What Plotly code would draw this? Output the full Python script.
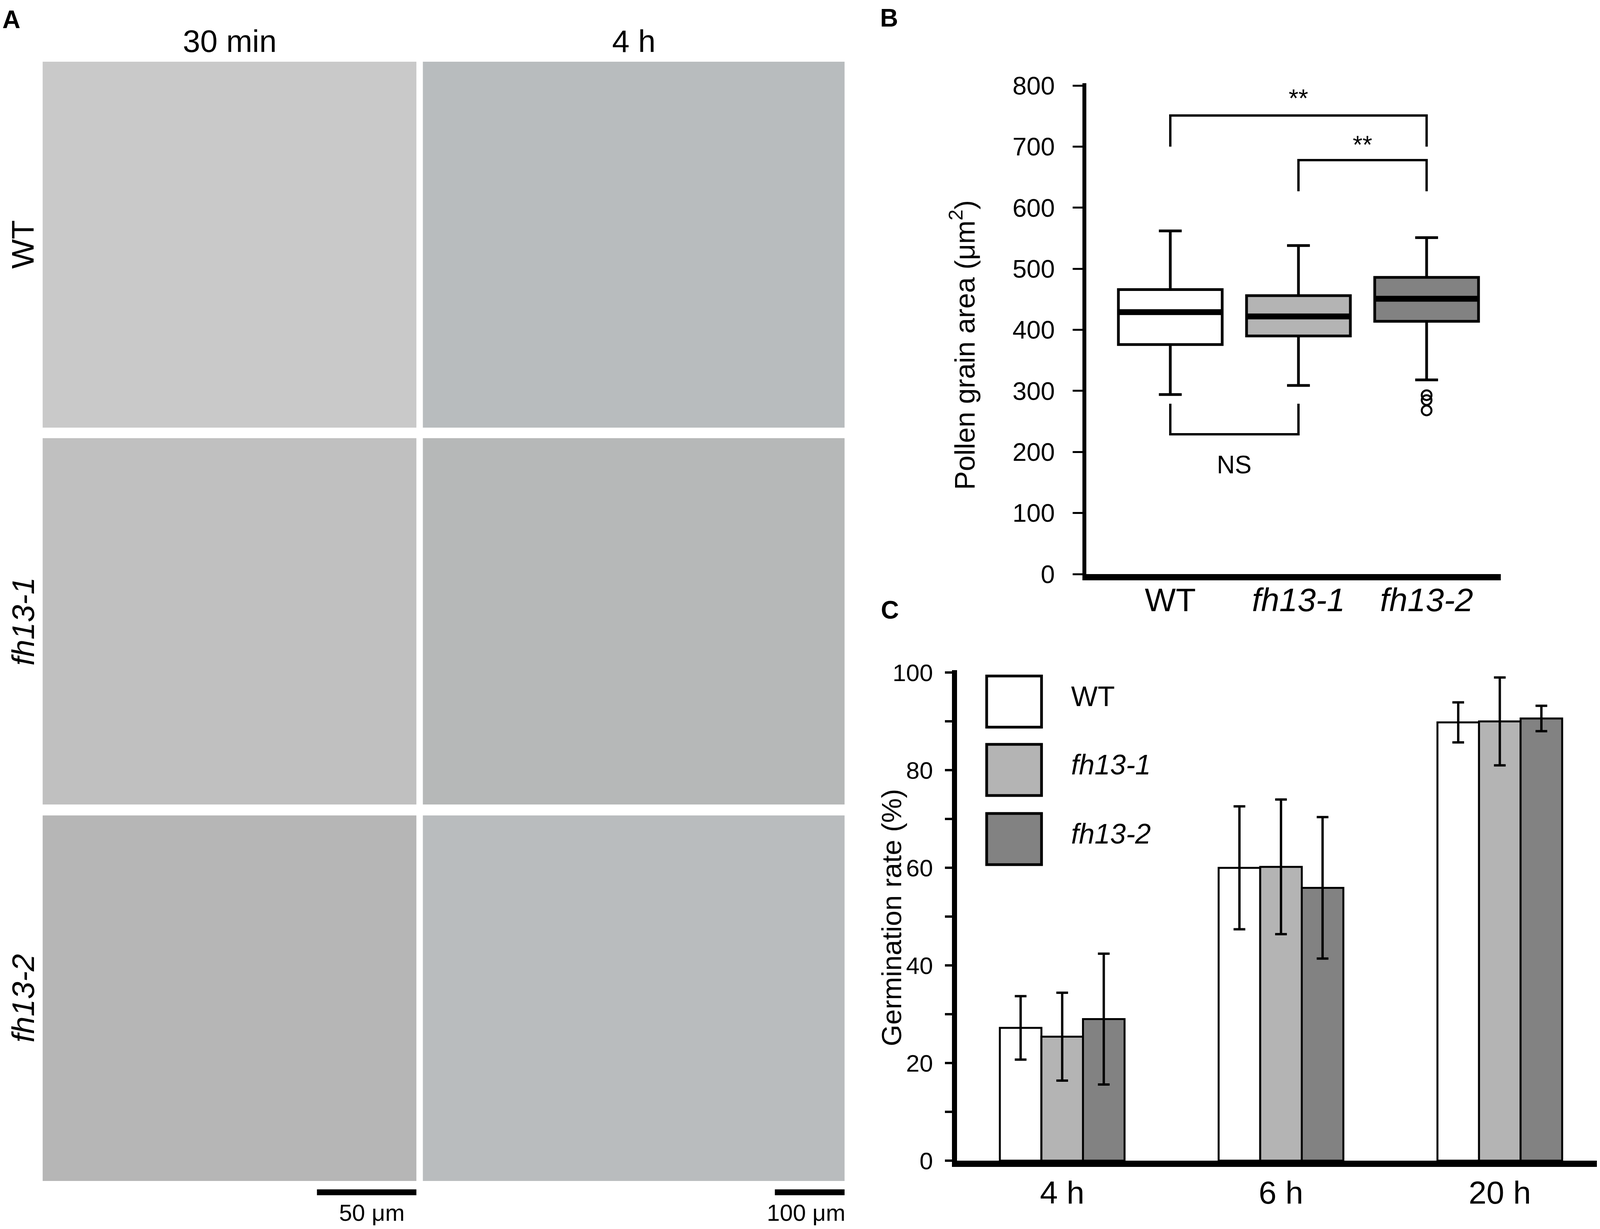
import plotly.graph_objects as go

W, H = 4200, 3147
FONT = "Liberation Sans, Arial, sans-serif"

# ---- panel B: pollen grain area (um^2), box statistics
genotypes = ["WT", "fh13-1", "fh13-2"]
genotype_labels = ["WT", "<i>fh13-1</i>", "<i>fh13-2</i>"]
genotype_colors = ["#ffffff", "#b4b4b4", "#828282"]
area_upper = [562, 538, 551]
area_q3 = [466, 456, 486]
area_median = [429, 422, 451]
area_q1 = [376, 390, 414]
area_lower = [294, 309, 318]
outlier_group = [2, 2, 2]
outlier_values = [293, 285, 268]

# significance brackets: left group, right group, bar height, leg end, label
sig_left = [0, 1, 0]
sig_right = [2, 2, 1]
sig_bar = [751, 678, 229]
sig_leg = [700, 627, 279]
sig_text = ["**", "**", "NS"]
sig_text_y = [779, 703, 179]

# ---- panel C: germination rate (%)
timepoints = ["4 h", "6 h", "20 h"]
germ_wt = [27.2, 60.0, 89.8]
germ_fh13_1 = [25.4, 60.2, 90.0]
germ_fh13_2 = [29.0, 55.9, 90.6]
err_wt = [6.5, 12.6, 4.1]
err_fh13_1 = [9.0, 13.8, 9.0]
err_fh13_2 = [13.4, 14.5, 2.6]

# ---- panel A: micrograph grid labels
time_titles = ["30 min", "4 h"]
row_titles = ["WT", "<i>fh13-1</i>", "<i>fh13-2</i>"]
scale_labels = ["50 \u03bcm", "100 \u03bcm"]


def px(x):
    return x / W


def py(y):
    return 1 - y / H


def note(x, y, text, size, angle=0, xanchor="center", bold=False):
    # paper-referenced label, placed by reference pixel position
    if bold:
        text = "<b>" + text + "</b>"
    fig.add_annotation(x=px(x), y=py(y), xref="paper", yref="paper", text=text,
                       textangle=angle, showarrow=False,
                       xanchor=xanchor, yanchor="middle",
                       font=dict(size=size, color="black"))


fig = go.Figure()

# panel B boxes
for i, name in enumerate(genotypes):
    fig.add_trace(go.Box(
        x=[i], q1=[area_q1[i]], median=[area_median[i]], q3=[area_q3[i]],
        lowerfence=[area_lower[i]], upperfence=[area_upper[i]],
        width=0.81, whiskerwidth=0.22, boxpoints=False,
        fillcolor=genotype_colors[i], line=dict(color="black", width=7),
        name=name, showlegend=False, xaxis="x", yaxis="y",
    ))
# thick median bands (line-ew length is 1.4 x size)
fig.add_trace(go.Scatter(
    x=[0, 1, 2], y=area_median, mode="markers", showlegend=False,
    marker=dict(symbol="line-ew", size=188, color="black",
                line=dict(color="black", width=15)),
    xaxis="x", yaxis="y",
))
fig.add_trace(go.Scatter(
    x=outlier_group, y=outlier_values, mode="markers", showlegend=False,
    marker=dict(symbol="circle-open", size=25, color="black",
                line=dict(color="black", width=5)),
    xaxis="x", yaxis="y",
))
for a, b, top, leg in zip(sig_left, sig_right, sig_bar, sig_leg):
    fig.add_trace(go.Scatter(
        x=[a, a, b, b], y=[leg, top, top, leg], mode="lines",
        line=dict(color="black", width=6), showlegend=False,
        xaxis="x", yaxis="y",
    ))
for a, b, ty, t in zip(sig_left, sig_right, sig_text_y, sig_text):
    fig.add_annotation(x=(a + b) / 2, y=ty, xref="x", yref="y", text=t,
                       showarrow=False, xanchor="center", yanchor="middle",
                       font=dict(size=64, color="black"))

# panel C bars
germ = [germ_wt, germ_fh13_1, germ_fh13_2]
errs = [err_wt, err_fh13_1, err_fh13_2]
for i, name in enumerate(genotypes):
    fig.add_trace(go.Bar(
        x=timepoints, y=germ[i], name=name, showlegend=False,
        marker=dict(color=genotype_colors[i], line=dict(color="black", width=5)),
        error_y=dict(type="data", array=errs[i], color="black",
                     thickness=6, width=15),
        xaxis="x2", yaxis="y2",
    ))

# panel C legend drawn as large swatches
leg_top = [1731, 1906, 2083]
for i, lab in enumerate(genotype_labels):
    fig.add_shape(type="rect", xref="paper", yref="paper",
                  x0=px(2590), x1=px(2734), y0=py(leg_top[i]), y1=py(leg_top[i] + 131),
                  fillcolor=genotype_colors[i], line=dict(color="black", width=7))
    note(2810, leg_top[i] + 52, lab, 72, xanchor="left")

# panel A: micrograph placeholders (background tone of each photo)
col_x = [(112, 1093), (1110, 2217)]
row_y = [(158, 1095), (1122, 2060), (2088, 3024)]
photo_fill = [["#c9c9c9", "#c0c0c0", "#b6b6b6"],
              ["#b8bcbe", "#b6b8b8", "#b9bcbe"]]
for c, (x0, x1) in enumerate(col_x):
    for r, (y0, y1) in enumerate(row_y):
        fig.add_shape(type="rect", xref="paper", yref="paper",
                      x0=px(x0), x1=px(x1), y0=py(y1), y1=py(y0),
                      fillcolor=photo_fill[c][r], line=dict(width=0), layer="below")
for (x0, x1), t in zip(col_x, time_titles):
    note((x0 + x1) / 2, 106, t, 80)
for (y0, y1), t in zip(row_y, row_titles):
    note(60, (y0 + y1) / 2, t, 80, angle=-90)
bars_x = [(832, 1093), (2034, 2217)]
label_x = [976, 2116]
for (x0, x1), lx, t in zip(bars_x, label_x, scale_labels):
    fig.add_shape(type="line", xref="paper", yref="paper",
                  x0=px(x0), x1=px(x1), y0=py(3053), y1=py(3053),
                  line=dict(color="black", width=15))
    note(lx, 3105, t, 60)

# panel letters and axis titles
for letter, (lx, ly) in zip(["A", "B", "C"], [(30, 50), (2334, 46), (2336, 1562)]):
    note(lx, ly, letter, 64, bold=True)
note(2527, 883, "Pollen grain area (\u03bcm<sup>2</sup>)", 72, angle=-90)
note(2340, 2350, "Germination rate (%)", 71, angle=-90)

fig.update_layout(
    autosize=True,
    margin=dict(l=0, r=0, t=0, b=0, pad=0),
    paper_bgcolor="white", plot_bgcolor="rgba(0,0,0,0)",
    font=dict(family=FONT, color="black"),
    barmode="group", bargap=0.43, bargroupgap=0,
    xaxis=dict(domain=[px(2852), px(3940)], range=[-0.654, 2.58],
               tickvals=[0, 1, 2], ticktext=genotype_labels,
               showline=True, linecolor="black", linewidth=16,
               ticks="", showgrid=False, zeroline=False, automargin=False,
               tickfont=dict(size=84), ticklabelstandoff=-22),
    yaxis=dict(domain=[py(1470), py(213)], range=[0, 804],
               tickvals=[0, 100, 200, 300, 400, 500, 600, 700, 800],
               showline=True, linecolor="black", linewidth=10,
               ticks="outside", ticklen=25, tickwidth=5, tickcolor="black",
               showgrid=False, zeroline=False, automargin=False,
               tickfont=dict(size=65), ticklabelstandoff=33),
    xaxis2=dict(domain=[px(2512), px(4192)], range=[-0.481, 2.444],
                anchor="y2", type="category",
                showline=True, linecolor="black", linewidth=16,
                ticks="", showgrid=False, zeroline=False, automargin=False,
                tickfont=dict(size=82), ticklabelstandoff=-4),
    yaxis2=dict(domain=[py(2972), py(1716)], range=[0, 100.5], anchor="x2",
                tickmode="linear", tick0=0, dtick=20,
                minor=dict(dtick=10, ticks="outside", ticklen=18, tickwidth=6,
                           tickcolor="black", showgrid=False),
                showline=True, linecolor="black", linewidth=13,
                ticks="outside", ticklen=18, tickwidth=6, tickcolor="black",
                showgrid=False, zeroline=False, automargin=False,
                tickfont=dict(size=62), ticklabelstandoff=18),
)

fig.write_html(
    "out.html",
    config={"displayModeBar": False},
    default_width="100vw",
    default_height="100vh",
    post_script="document.body.style.margin='0';"
                "document.body.style.overflow='hidden';"
                "Plotly.Plots.resize(document.getElementById('{plot_id}'));",
)
